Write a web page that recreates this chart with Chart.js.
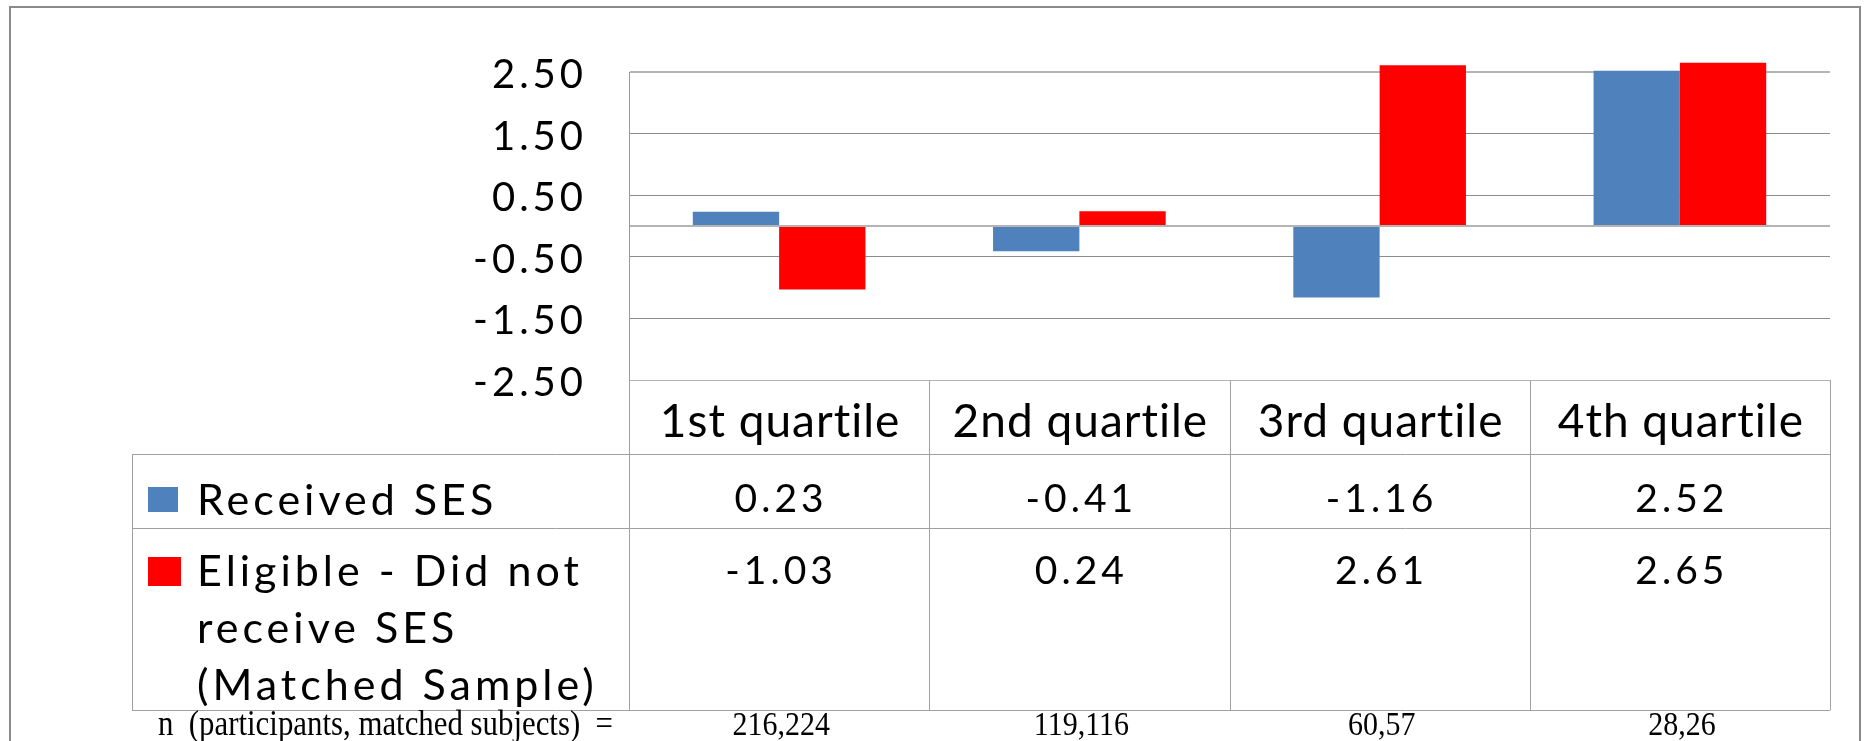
<!DOCTYPE html>
<html>
<head>
<meta charset="utf-8">
<script src="https://cdn.jsdelivr.net/npm/chart.js@4.4.1/dist/chart.umd.min.js"></script>
<style>
  html, body { margin: 0; padding: 0; background: #ffffff; }
  #wrap { position: relative; width: 1864px; height: 741px; }
</style>
</head>
<body>
<div id="wrap"><canvas id="c" width="1864" height="741"></canvas></div>
<script>
// Categories and series
const quartiles = ['1st quartile', '2nd quartile', '3rd quartile', '4th quartile'];
const receivedSES = [0.23, -0.41, -1.16, 2.52];
const eligibleNotReceived = [-1.03, 0.24, 2.61, 2.65];
const receivedName = 'Received SES';
const eligibleName = ['Eligible - Did not', 'receive SES', '(Matched Sample)'];
// Sample sizes shown under each quartile
const sampleSizes = ['216,224', '119,116', '60,57', '28,26'];
const sampleLabel = 'n  (participants, matched subjects)  =';
// Value axis ticks (0 carries the baseline but no label)
const yTickValues = [2.5, 1.5, 0.5, 0, -0.5, -1.5, -2.5];

const BLUE = '#4f81bd';
const RED = '#ff0000';
const SANS = 'Lato, "Open Sans", sans-serif';
const SERIF = '"Liberation Serif", "DejaVu Serif", serif';

function fmt(v) { return v.toFixed(2); }

// Data table underneath the plot, aligned to the category columns
const dataTable = {
  id: 'dataTable',
  afterDraw(chart) {
    const ctx = chart.ctx;
    const ca = chart.chartArea;
    const x = chart.scales.x;
    const n = quartiles.length;
    const colW = (ca.right - ca.left) / n;
    const tableLeft = 132;
    const headTop = ca.bottom;
    const row1Top = headTop + 74;
    const row2Top = row1Top + 74;
    const tableBottom = row2Top + 182;

    ctx.save();
    // outer frame
    ctx.strokeStyle = '#8a8a8a';
    ctx.lineWidth = 2;
    ctx.strokeRect(10, 7, 1850, 780);

    // table grid
    ctx.strokeStyle = '#a0a0a0';
    ctx.lineWidth = 1;
    ctx.beginPath();
    [row1Top, row2Top, tableBottom].forEach(yy => {
      ctx.moveTo(tableLeft, yy + 0.5);
      ctx.lineTo(ca.right, yy + 0.5);
    });
    ctx.moveTo(tableLeft + 0.5, row1Top);
    ctx.lineTo(tableLeft + 0.5, tableBottom);
    for (let i = 0; i <= n; i++) {
      const xx = Math.round(ca.left + i * colW) + 0.5;
      ctx.moveTo(xx, headTop);
      ctx.lineTo(xx, tableBottom);
    }
    ctx.stroke();

    ctx.fillStyle = '#000000';
    ctx.textBaseline = 'alphabetic';

    // column headers
    ctx.font = '46px ' + SANS;
    ctx.textAlign = 'center';
    ctx.letterSpacing = '1px';
    quartiles.forEach((q, i) => {
      ctx.fillText(q, x.getPixelForValue(i) + 1, headTop + 57);
    });

    // values
    ctx.font = '39px ' + SANS;
    ctx.letterSpacing = '4px';
    receivedSES.forEach((v, i) => {
      ctx.fillText(fmt(v), x.getPixelForValue(i) + 2, row1Top + 58);
    });
    eligibleNotReceived.forEach((v, i) => {
      ctx.fillText(fmt(v), x.getPixelForValue(i) + 2, row2Top + 56);
    });

    // legend keys
    ctx.fillStyle = BLUE;
    ctx.fillRect(148, row1Top + 33, 30, 25);
    ctx.fillStyle = RED;
    ctx.fillRect(148, row2Top + 29, 33, 29);

    ctx.fillStyle = '#000000';
    ctx.textAlign = 'left';
    ctx.font = '43px ' + SANS;
    ctx.letterSpacing = '4px';
    ctx.fillText(receivedName, 197, row1Top + 61);
    eligibleName.forEach((line, k) => {
      ctx.fillText(line, 197, row2Top + 58 + k * 57);
    });

    // sample sizes line
    ctx.letterSpacing = '0px';
    ctx.font = '32px ' + SERIF;
    ctx.textAlign = 'left';
    const target = 455;
    const w = ctx.measureText(sampleLabel).width;
    ctx.save();
    ctx.translate(158, tableBottom + 25);
    ctx.scale(target / w, 1.15);
    ctx.fillText(sampleLabel, 0, 0);
    ctx.restore();
    ctx.font = '30px ' + SERIF;
    ctx.textAlign = 'center';
    sampleSizes.forEach((s, i) => {
      ctx.save();
      ctx.translate(x.getPixelForValue(i) + 2, tableBottom + 25);
      ctx.scale(1, 1.12);
      ctx.fillText(s, 0, 0);
      ctx.restore();
    });
    ctx.restore();
  }
};

// Spaced lettering for the axis labels
const tickSpacing = {
  id: 'tickSpacing',
  beforeDraw(chart) { chart.ctx.letterSpacing = '4px'; },
  beforeDatasetsDraw(chart) { chart.ctx.letterSpacing = '0px'; }
};

new Chart(document.getElementById('c'), {
  type: 'bar',
  data: {
    labels: quartiles,
    datasets: [
      { label: receivedName, data: receivedSES, backgroundColor: BLUE, borderWidth: 0, clip: false },
      { label: eligibleName.join(' '), data: eligibleNotReceived, backgroundColor: RED, borderWidth: 0, clip: false }
    ]
  },
  options: {
    responsive: false,
    animation: false,
    layout: { padding: { left: 0, right: 34, top: 72, bottom: 361 } },
    datasets: { bar: { categoryPercentage: 0.575, barPercentage: 1.0 } },
    plugins: { legend: { display: false }, tooltip: { enabled: false } },
    scales: {
      x: { display: false },
      y: {
        min: -2.5,
        max: 2.5,
        afterBuildTicks(axis) { axis.ticks = yTickValues.map(v => ({ value: v })); },
        afterFit(axis) { axis.width = 629; },
        border: { display: true, color: '#9a9a9a', width: 1 },
        grid: {
          drawTicks: false,
          color: c => (c.tick && (c.tick.value === 0 || c.tick.value === 2.5 || c.tick.value === -2.5)) ? '#b4b4b4' : '#8c8c8c',
          lineWidth: c => (c.tick && (c.tick.value === 0 || c.tick.value === 2.5)) ? 2 : 1
        },
        ticks: {
          padding: 42,
          labelOffset: 3,
          color: '#000000',
          font: { family: SANS, size: 40 },
          callback: v => (v === 0 ? '' : fmt(v))
        }
      }
    }
  },
  plugins: [tickSpacing, dataTable]
});
</script>
</body>
</html>
